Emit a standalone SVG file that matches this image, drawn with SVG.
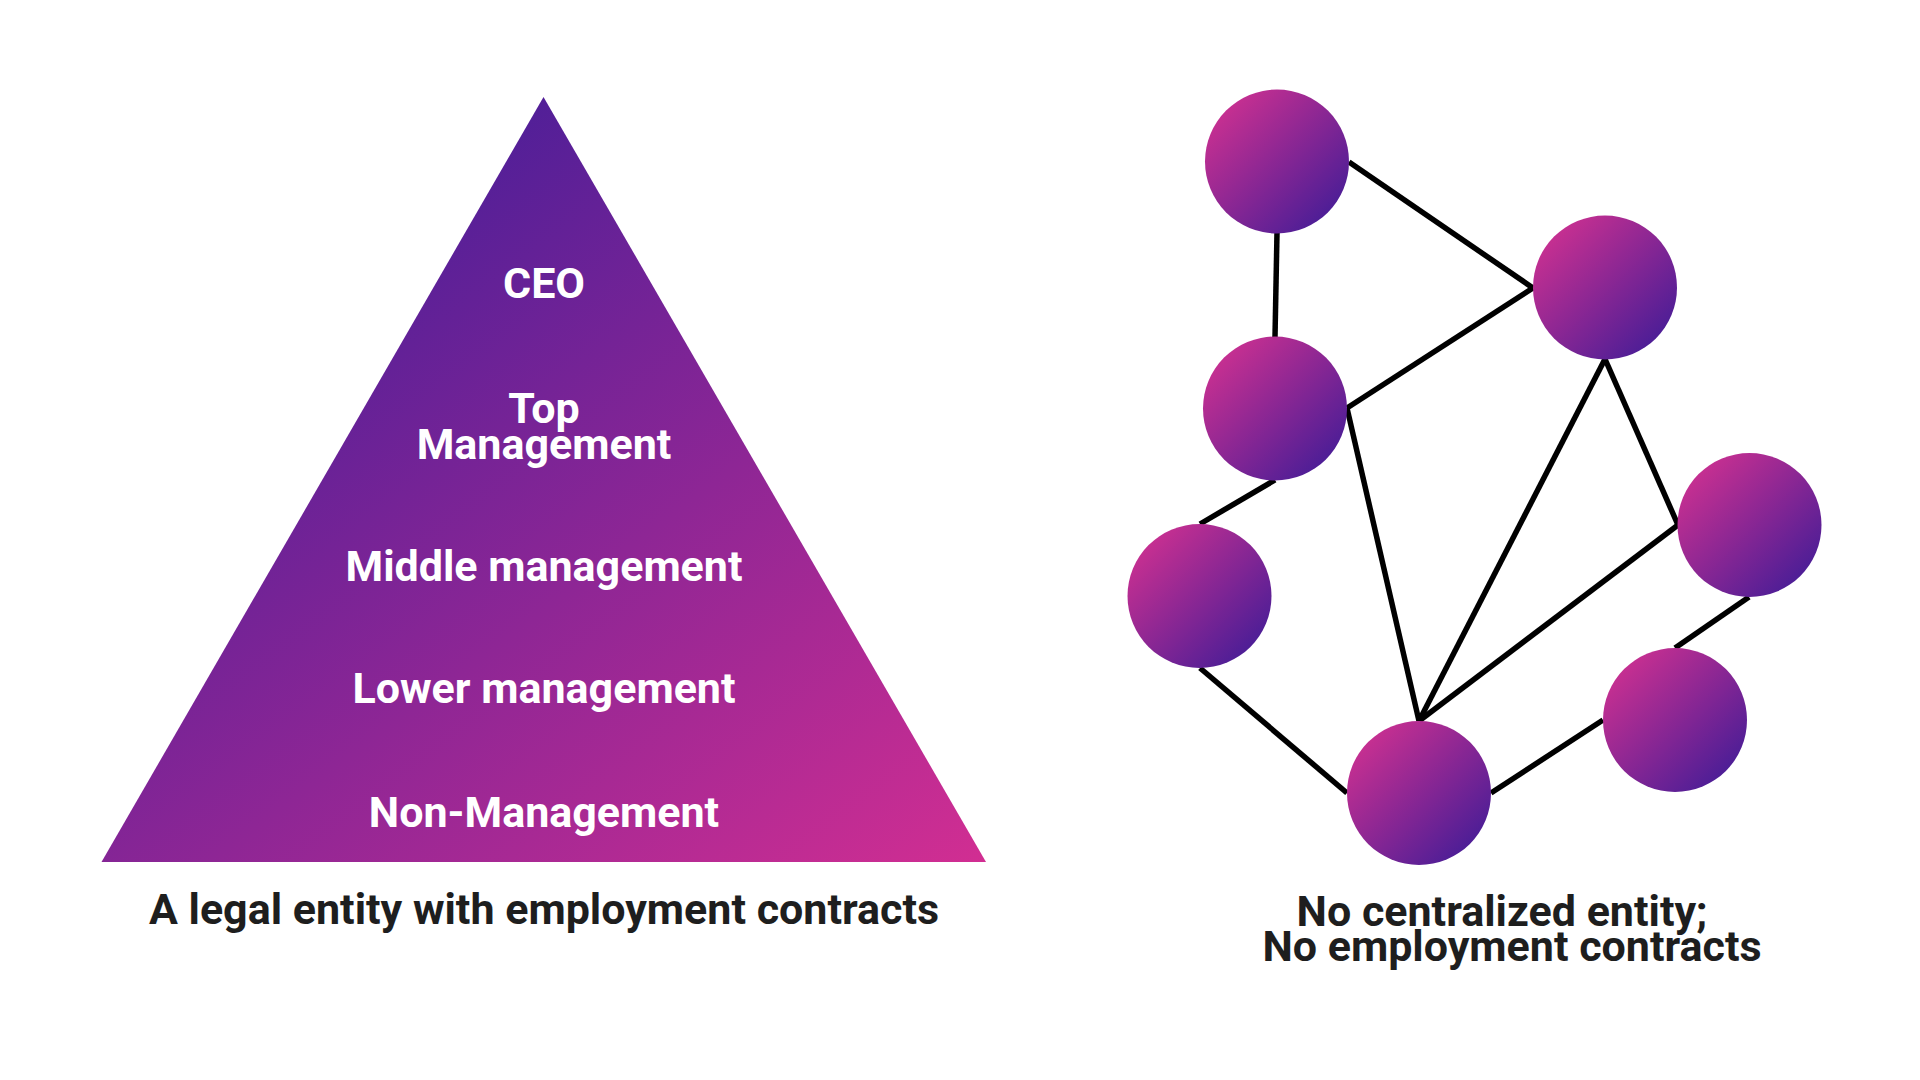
<svg xmlns="http://www.w3.org/2000/svg" width="1920" height="1080" viewBox="0 0 1920 1080">
  <defs>
    <linearGradient id="triGrad" gradientUnits="userSpaceOnUse" x1="420" y1="120" x2="980" y2="870">
      <stop offset="0" stop-color="#4a1e98"/>
      <stop offset="1" stop-color="#d22e92"/>
    </linearGradient>
    <linearGradient id="nodeGrad" x1="0.15" y1="0.15" x2="0.85" y2="0.85">
      <stop offset="0" stop-color="#c42f91"/>
      <stop offset="1" stop-color="#4f1e96"/>
    </linearGradient>
  </defs>
  <style>
    .lvl { font-family: Roboto, "Liberation Sans", sans-serif; font-weight: 700; font-size: 43px; fill: #ffffff; text-anchor: middle; }
    .cap { font-family: Roboto, "Liberation Sans", sans-serif; font-weight: 700; font-size: 43px; fill: #1e1e1e; text-anchor: middle; }
    .node { fill: url(#nodeGrad); }
    .edge { stroke: #000000; stroke-width: 5.5; fill: none; }
  </style>
  <rect width="1920" height="1080" fill="#ffffff"/>

  <g id="pyramid">
    <polygon points="543.5,97 986,862 101.5,862" fill="url(#triGrad)"/>
    <text class="lvl" x="544" y="298">CEO</text>
    <text class="lvl" x="544" y="423">Top</text>
    <text class="lvl" x="544" y="459">Management</text>
    <text class="lvl" x="544" y="581">Middle management</text>
    <text class="lvl" x="544" y="703">Lower management</text>
    <text class="lvl" x="544" y="827">Non-Management</text>
  </g>
  <g id="label-left">
    <text class="cap" x="544" y="924">A legal entity with employment contracts</text>
  </g>

  <g id="connectors">
    <line class="edge" x1="1277" y1="233" x2="1275" y2="337"/>
    <line class="edge" x1="1349" y1="162" x2="1533" y2="288"/>
    <line class="edge" x1="1347" y1="408" x2="1533" y2="288"/>
    <line class="edge" x1="1275" y1="480" x2="1200" y2="524"/>
    <line class="edge" x1="1347" y1="408" x2="1419" y2="721"/>
    <line class="edge" x1="1605" y1="359" x2="1419" y2="721"/>
    <line class="edge" x1="1605" y1="359" x2="1678" y2="525"/>
    <line class="edge" x1="1678" y1="525" x2="1419" y2="721"/>
    <line class="edge" x1="1749" y1="597" x2="1675" y2="648"/>
    <line class="edge" x1="1200" y1="668" x2="1347" y2="793"/>
    <line class="edge" x1="1491" y1="793" x2="1603" y2="720"/>
  </g>

  <g id="node1"><circle class="node" cx="1277" cy="161.5" r="72"/></g>
  <g id="node2"><circle class="node" cx="1605" cy="287.5" r="72"/></g>
  <g id="node3"><circle class="node" cx="1275" cy="408.5" r="72"/></g>
  <g id="node4"><circle class="node" cx="1199.5" cy="596" r="72"/></g>
  <g id="node5"><circle class="node" cx="1749.5" cy="525" r="72"/></g>
  <g id="node6"><circle class="node" cx="1675" cy="720" r="72"/></g>
  <g id="node7"><circle class="node" cx="1419" cy="793" r="72"/></g>

  <g id="label-right">
    <text class="cap" x="1502" y="926">No centralized entity;</text>
    <text class="cap" x="1512" y="961">No employment contracts</text>
  </g>
</svg>
